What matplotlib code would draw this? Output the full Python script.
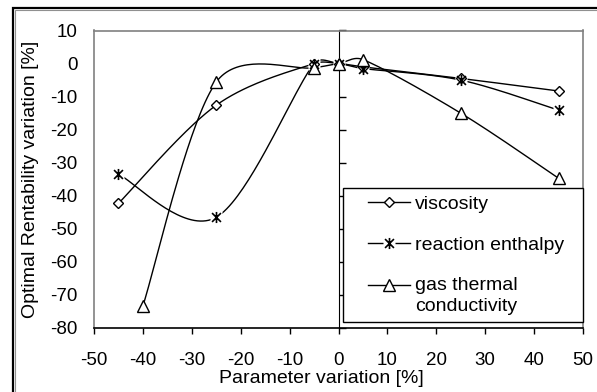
import numpy as np
import matplotlib
matplotlib.use("Agg")
import matplotlib.pyplot as plt
from matplotlib.path import Path
from matplotlib.patches import Rectangle
from matplotlib.legend_handler import HandlerTuple

plt.rcParams['font.family'] = ['Liberation Sans', 'DejaVu Sans']

# ---- data ----
x_visc = [-45, -25, -5, 0, 5, 25, 45]
y_visc = [-42.3, -12.6, 0.0, 0, -1.0, -4.5, -8.3]

x_enth = [-45, -25, -5, 0, 5, 25, 45]
y_enth = [-33.5, -46.5, 0.0, 0, -1.5, -5.0, -14.1]

x_cond = [-40, -25, -5, 0, 5, 25, 45]
y_cond = [-73.3, -5.6, -1.3, 0, 1.2, -15.0, -34.7]

labels = ["viscosity", "reaction enthalpy", "gas thermal\nconductivity"]
xticks = list(range(-50, 51, 10))
yticks = list(range(-80, 11, 10))


class ShiftedTuple(HandlerTuple):
    def __init__(self, dx=0.0, dy=0.0, **kw):
        super().__init__(**kw)
        self.dx = dx
        self.dy = dy

    def create_artists(self, legend, orig_handle, xdescent, ydescent,
                       width, height, fontsize, trans):
        return super().create_artists(legend, orig_handle,
                                      xdescent - self.dx, ydescent - 2 * self.dy,
                                      width - self.dx, height, fontsize, trans)


# asterisk marker: vertical line + X
star_path = Path(
    [(0, -1), (0, 1), (-0.8, -0.8), (0.8, 0.8), (-0.8, 0.8), (0.8, -0.8)],
    [Path.MOVETO, Path.LINETO, Path.MOVETO, Path.LINETO, Path.MOVETO, Path.LINETO],
)

fig = plt.figure(figsize=(5.97, 3.92), dpi=100)
ax = fig.add_axes([94 / 597, 1 - 328 / 392, 489 / 597, 297.5 / 392])
ax.set_xlim(-50, 50)
ax.set_ylim(-80, 10)


def smooth(xs, ys, n=40, clamp=0.4):
    """Excel-like smoothed line built in display space: cubic Bezier
    segments with Catmull-Rom tangents, control arms clamped for short segments."""
    P = ax.transData.transform(np.column_stack([xs, ys]).astype(float))
    m = len(P)
    out = []
    for i in range(m - 1):
        p_prev = P[i - 1] if i > 0 else P[i]
        p0 = P[i]
        p1 = P[i + 1]
        p_next = P[i + 2] if i + 2 < m else P[i + 1]
        seglen = np.hypot(*(p1 - p0))
        a1 = (p1 - p_prev) / 6.0
        a2 = (p_next - p0) / 6.0
        for a in (a1, a2):
            L = np.hypot(*a)
            if L > clamp * seglen:
                a *= clamp * seglen / L
        c1 = p0 + a1
        c2 = p1 - a2
        t = np.linspace(0, 1, n)[:, None]
        seg = ((1 - t) ** 3) * p0 + 3 * ((1 - t) ** 2) * t * c1 + 3 * (1 - t) * t ** 2 * c2 + t ** 3 * p1
        if i > 0:
            seg = seg[1:]
        out.append(seg)
    out = ax.transData.inverted().transform(np.vstack(out))
    return out[:, 0], out[:, 1]


FS = 13.5
FSL = 14
lw = 1.0

handles = []
# viscosity
sx, sy = smooth(x_visc, y_visc)
l1, = ax.plot(sx, sy, color='black', lw=lw, zorder=2)
m1, = ax.plot(x_visc, y_visc, ls='none', marker='D', ms=5.5, mfc='white', mec='black', mew=1.0, zorder=5)
handles.append((l1, m1))

# reaction enthalpy
sx, sy = smooth(x_enth, y_enth)
l2, = ax.plot(sx, sy, color='black', lw=lw, zorder=2)
h2, = ax.plot(x_enth, y_enth, ls='none', marker='s', ms=8, mfc='white', mec='none', zorder=4)
m2, = ax.plot(x_enth, y_enth, ls='none', marker=star_path, ms=8, mfc='none', mec='black', mew=1.2, zorder=5)
handles.append((l2, h2, m2))

# gas thermal conductivity
sx, sy = smooth(x_cond, y_cond)
l3, = ax.plot(sx, sy, color='black', lw=lw, zorder=2)
m3, = ax.plot(x_cond, y_cond, ls='none', marker='^', ms=8, mfc='white', mec='black', mew=1.0, zorder=5)
handles.append((l3, m3))

ax.set_xlim(-50, 50)
ax.set_ylim(-80, 10)
ax.set_xticks(xticks)
ax.set_yticks(yticks)
ax.set_xticklabels([str(v) for v in xticks], fontsize=FS)
ax.set_yticklabels([str(v) for v in yticks], fontsize=FS)

for s in ['left', 'top', 'right']:
    ax.spines[s].set_color('#808080')
    ax.spines[s].set_linewidth(1.2)
ax.spines['bottom'].set_color('black')
ax.spines['bottom'].set_linewidth(1.2)
ax.tick_params(axis='y', length=0, pad=12)
ax.tick_params(axis='x', direction='out', length=4, width=1.0, pad=13.5)

# vertical axis at x = 0 with tick marks
sec = ax.secondary_yaxis(0.5)
sec.set_yticks(yticks)
sec.tick_params(axis='y', direction='out', length=5, width=1.0, labelleft=False, labelright=False)
sec.spines['left'].set_color('black')
sec.spines['left'].set_linewidth(1.2)

ax.set_xlabel("Parameter variation [%]", fontsize=FSL)
ax.xaxis.set_label_coords(0.464, -0.14)
ax.set_ylabel("Optimal Rentability variation [%]", fontsize=FSL)
ax.yaxis.set_label_coords(-0.112, 0.5)

px2pt = 72 / 100.0
hmap = {
    handles[0]: ShiftedTuple(dx=13),
    handles[1]: ShiftedTuple(dx=13),
    handles[2]: ShiftedTuple(dx=13, dy=11 * px2pt),
}
leg = ax.legend(handles, labels, loc='lower left',
                bbox_to_anchor=(249 / 489, 6 / 297.5, 240 / 489, 0.45),
                mode='expand', borderaxespad=0, fontsize=FSL,
                handlelength=3.1, handletextpad=0.26, labelspacing=1.2,
                borderpad=0.36, fancybox=False, framealpha=1, numpoints=1,
                edgecolor='black', handler_map=hmap)
leg.get_frame().set_linewidth(1.0)
leg.set_zorder(10)
for t in leg.get_texts():
    t.set_linespacing(1.3)

# outer chart border
fig.patches.append(Rectangle((12.5 / 597, -0.1), 1.2, 1.1 - 8 / 392,
                             transform=fig.transFigure, fill=False,
                             edgecolor='black', lw=1.6))
fig.patches.append(Rectangle((14.5 / 597, -0.1), 1.2, 1.1 - 10 / 392,
                             transform=fig.transFigure, fill=False,
                             edgecolor='#909090', lw=0.8))

fig.savefig("out.png", dpi=100)
